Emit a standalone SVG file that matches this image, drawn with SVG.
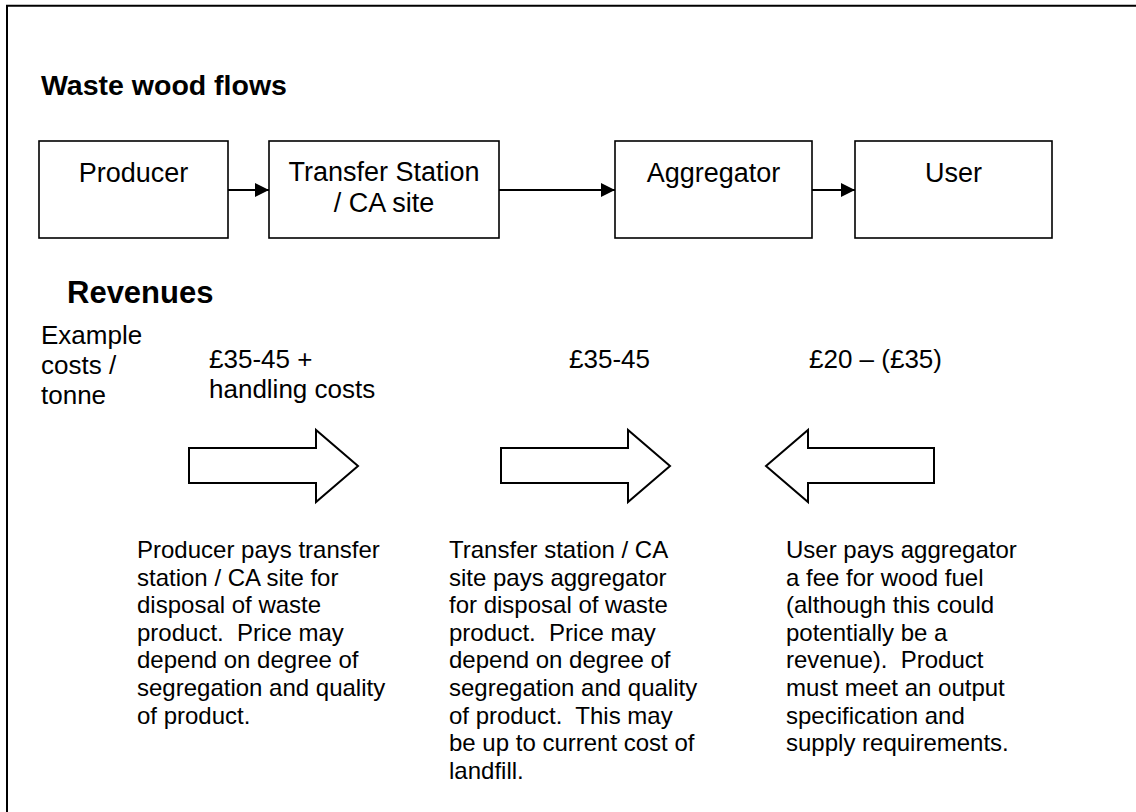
<svg xmlns="http://www.w3.org/2000/svg" width="1136" height="812" viewBox="0 0 1136 812">
  <style>
    text { font-family: "Liberation Sans", Arial, sans-serif; fill: #000; white-space: pre; }
    .h { font-weight: bold; }
    .lbl { font-size: 27px; text-anchor: middle; }
    .box { fill: #fff; stroke: #000; stroke-width: 1.6; }
    .conn { stroke: #000; stroke-width: 2; fill: none; }
    .blk { fill: #fff; stroke: #000; stroke-width: 2; stroke-linejoin: miter; }
    .cost { font-size: 26px; }
    .body { font-size: 24px; }
  </style>
  <defs>
    <marker id="ah" markerWidth="14" markerHeight="14" refX="14" refY="7" orient="auto" markerUnits="userSpaceOnUse">
      <path d="M0,0 L14,7 L0,14 Z" fill="#000"/>
    </marker>
  </defs>
  <rect width="1136" height="812" fill="#fff"/>
  <path d="M7,812 V5.7 H1136" fill="none" stroke="#000" stroke-width="2"/>

  <text class="h" x="41" y="95" font-size="28.5">Waste wood flows</text>

  <g id="producer">
    <rect class="box" x="39" y="141" width="189" height="97"/>
    <text class="lbl" x="133.5" y="182">Producer</text>
  </g>
  <g id="transfer">
    <rect class="box" x="269" y="141" width="230" height="97"/>
    <text class="lbl" x="384" y="181">Transfer Station</text>
    <text class="lbl" x="384" y="212">/ CA site</text>
  </g>
  <g id="aggregator">
    <rect class="box" x="615" y="141" width="197" height="97"/>
    <text class="lbl" x="713.5" y="182">Aggregator</text>
  </g>
  <g id="user">
    <rect class="box" x="855" y="141" width="197" height="97"/>
    <text class="lbl" x="953.5" y="182">User</text>
  </g>

  <g id="connectors">
    <line class="conn" x1="228" y1="190" x2="269" y2="190" marker-end="url(#ah)"/>
    <line class="conn" x1="499" y1="190" x2="615" y2="190" marker-end="url(#ah)"/>
    <line class="conn" x1="812" y1="190" x2="855" y2="190" marker-end="url(#ah)"/>
  </g>

  <text class="h" x="67" y="303" font-size="31">Revenues</text>

  <g id="example">
    <text class="cost" x="41" y="344">Example</text>
    <text class="cost" x="41" y="374">costs /</text>
    <text class="cost" x="41" y="404">tonne</text>
  </g>
  <g id="cost1">
    <text class="cost" x="209" y="368">£35-45 +</text>
    <text class="cost" x="209" y="398">handling costs</text>
  </g>
  <g id="cost2">
    <text class="cost" x="569" y="368">£35-45</text>
  </g>
  <g id="cost3">
    <text class="cost" x="809" y="368">£20 – (£35)</text>
  </g>

  <g id="arrow1">
    <path class="blk" d="M189,448 H316 V430 L358,466 L316,502 V483 H189 Z"/>
  </g>
  <g id="arrow2">
    <path class="blk" d="M501,448 H628 V430 L670,466 L628,502 V483 H501 Z"/>
  </g>
  <g id="arrow3">
    <path class="blk" d="M934,448 H808 V430 L766,466 L808,502 V483 H934 Z"/>
  </g>

  <g id="desc1">
    <text class="body" x="137" y="558">Producer pays transfer</text>
    <text class="body" x="137" y="585.6">station / CA site for</text>
    <text class="body" x="137" y="613.2">disposal of waste</text>
    <text class="body" x="137" y="640.8">product.  Price may</text>
    <text class="body" x="137" y="668.4">depend on degree of</text>
    <text class="body" x="137" y="696">segregation and quality</text>
    <text class="body" x="137" y="723.6">of product.</text>
  </g>
  <g id="desc2">
    <text class="body" x="449" y="558">Transfer station / CA</text>
    <text class="body" x="449" y="585.6">site pays aggregator</text>
    <text class="body" x="449" y="613.2">for disposal of waste</text>
    <text class="body" x="449" y="640.8">product.  Price may</text>
    <text class="body" x="449" y="668.4">depend on degree of</text>
    <text class="body" x="449" y="696">segregation and quality</text>
    <text class="body" x="449" y="723.6">of product.  This may</text>
    <text class="body" x="449" y="751.2">be up to current cost of</text>
    <text class="body" x="449" y="778.8">landfill.</text>
  </g>
  <g id="desc3">
    <text class="body" x="786" y="558">User pays aggregator</text>
    <text class="body" x="786" y="585.6">a fee for wood fuel</text>
    <text class="body" x="786" y="613.2">(although this could</text>
    <text class="body" x="786" y="640.8">potentially be a</text>
    <text class="body" x="786" y="668.4">revenue).  Product</text>
    <text class="body" x="786" y="696">must meet an output</text>
    <text class="body" x="786" y="723.6">specification and</text>
    <text class="body" x="786" y="751.2">supply requirements.</text>
  </g>
</svg>
